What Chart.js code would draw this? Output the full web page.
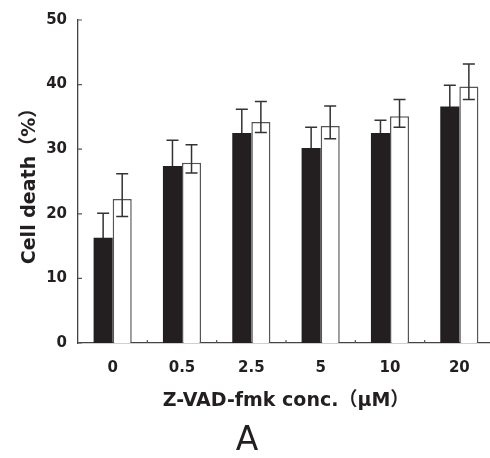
<!DOCTYPE html>
<html>
<head>
<meta charset="utf-8">
<script src="https://cdn.jsdelivr.net/npm/chart.js@4.4.1/dist/chart.umd.min.js"></script>
<style>
    html, body { margin: 0; padding: 0; background: #fff; overflow: hidden; }
    #wrap { position: relative; width: 496px; height: 458px; }
</style>
</head>
<body>
<div id="wrap"><canvas id="deathChart"></canvas></div>
<script>
const concLabels = ['0', '0.5', '2.5', '5', '10', '20'];
const blackValues = [16.3, 27.4, 32.5, 30.2, 32.5, 36.6];
const blackErr = [3.8, 4.0, 3.7, 3.2, 2.0, 3.3];
const whiteValues = [22.3, 27.9, 34.2, 33.6, 35.1, 39.7];
const whiteErrUp = [3.9, 2.8, 3.2, 3.1, 2.6, 3.5];
const whiteErrDown = [2.7, 1.6, 1.6, 2.0, 1.7, 2.0];
const yTicks = [0, 10, 20, 30, 40, 50];

const ink = '#231f20';
const fontFamily = "'DejaVu Sans', 'Noto Sans CJK JP', sans-serif";

function drawErrors(chart, di) {
    const ctx = chart.ctx;
    const yScale = chart.scales.y;
    const ds = chart.data.datasets[di];
    const meta = chart.getDatasetMeta(di);
    ctx.save();
    ctx.strokeStyle = '#333';
    ctx.lineWidth = 1.5;
    meta.data.forEach((bar, i) => {
        const v = ds.data[i];
        const top = yScale.getPixelForValue(v + ds.errUp[i]);
        const bottom = yScale.getPixelForValue(v - ds.errDown[i]);
        const half = 6;
        ctx.beginPath();
        ctx.moveTo(bar.x, top);
        ctx.lineTo(bar.x, bottom);
        ctx.moveTo(bar.x - half, top);
        ctx.lineTo(bar.x + half, top);
        ctx.moveTo(bar.x - half, bottom);
        ctx.lineTo(bar.x + half, bottom);
        ctx.stroke();
    });
    ctx.restore();
}

// black bars hide the lower half of their own error bars, as in the print
const errorBars = {
    id: 'errorBars',
    beforeDatasetsDraw(chart) { drawErrors(chart, 0); },
    afterDatasetsDraw(chart) { drawErrors(chart, 1); },
};

// short tick marks pointing into the plot
const innerTicks = {
    id: 'innerTicks',
    afterDraw(chart) {
        const ctx = chart.ctx;
        const { x, y } = chart.scales;
        ctx.save();
        ctx.strokeStyle = '#555';
        ctx.lineWidth = 1.2;
        ctx.beginPath();
        yTicks.forEach(v => {
            const py = y.getPixelForValue(v);
            ctx.moveTo(x.left, py);
            ctx.lineTo(x.left + 4, py);
        });
        for (let i = 0; i < concLabels.length - 1; i++) {
            const px = (x.getPixelForValue(i) + x.getPixelForValue(i + 1)) / 2;
            ctx.moveTo(px, y.bottom);
            ctx.lineTo(px, y.bottom - 3);
        }
        ctx.stroke();
        ctx.restore();
    },
};

new Chart(document.getElementById('deathChart'), {
    type: 'bar',
    data: {
        labels: concLabels,
        datasets: [
            {
                label: 'black',
                data: blackValues,
                errUp: blackErr,
                errDown: blackErr,
                backgroundColor: ink,
                borderWidth: 0,
            },
            {
                label: 'white',
                data: whiteValues,
                errUp: whiteErrUp,
                errDown: whiteErrDown,
                backgroundColor: '#ffffff',
                borderColor: '#555',
                borderWidth: 1.5,
            },
        ],
    },
    options: {
        responsive: true,
        maintainAspectRatio: false,
        animation: false,
        categoryPercentage: 0.55,
        barPercentage: 1,
        layout: { padding: { top: 14, right: 2, left: 0, bottom: 0 } },
        plugins: {
            legend: { display: false },
            tooltip: { enabled: false },
            title: {
                display: true,
                position: 'bottom',
                text: 'A',
                color: ink,
                font: { family: fontFamily, size: 33, weight: 'normal', lineHeight: 1 },
                padding: { top: 0, bottom: 0 },
            },
        },
        scales: {
            x: {
                afterFit(scale) { scale.height = 82; },
                grid: { display: false, drawTicks: false },
                border: { display: true, color: '#444', width: 1.3 },
                ticks: {
                    color: ink,
                    padding: 16,
                    font: { family: fontFamily, size: 15, weight: 'bold' },
                },
                title: {
                    display: true,
                    text: 'Z-VAD-fmk conc.（μM）',
                    color: ink,
                    font: { family: fontFamily, size: 19, weight: 'bold', lineHeight: 1.2 },
                    padding: { top: 0, bottom: 12.6 },
                },
            },
            y: {
                min: 0,
                max: 50,
                afterFit(scale) { scale.width = 78; },
                afterBuildTicks(scale) { scale.ticks = yTicks.map(v => ({ value: v })); },
                grid: { display: false, drawTicks: false },
                border: { display: true, color: '#444', width: 1.3 },
                ticks: {
                    color: ink,
                    padding: 11,
                    font: { family: fontFamily, size: 15, weight: 'bold' },
                },
                title: {
                    display: true,
                    text: 'Cell death（%）',
                    color: ink,
                    font: { family: fontFamily, size: 19, weight: 'bold', lineHeight: 1.2 },
                    padding: { top: 19, bottom: 0 },
                },
            },
        },
    },
    plugins: [errorBars, innerTicks],
});
</script>
</body>
</html>
